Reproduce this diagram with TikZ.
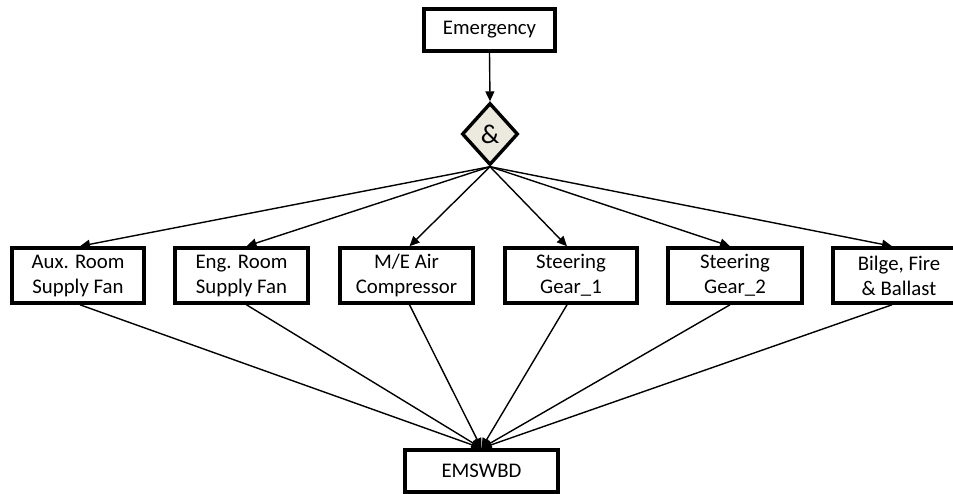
\documentclass[tikz,border=0pt]{standalone}
\usepackage{fontspec}
\setmainfont{Carlito}
\usetikzlibrary{shapes.geometric,arrows.meta}
\begin{document}
\begin{tikzpicture}[x=1pt,y=-1pt,
  box/.style={draw=black,line width=3.6pt,fill=white,align=center,inner sep=0pt,
    font=\fontsize{20.8}{25}\selectfont},
  conn/.style={line width=1.4pt,-{Triangle[length=10pt,width=9pt]}}]
\useasboundingbox (0,0) rectangle (953,493);
\clip (0,0) rectangle (953,493);
\fill[white] (0,0) rectangle (953,493);
\node[box,minimum width=131pt,minimum height=42pt] (em) at (489.5,30) {Emergency};
\node[draw=black,line width=3.4pt,fill={rgb,255:red,236;green,234;blue,222},shape=diamond,
  inner sep=0pt,minimum width=56pt,minimum height=62pt,font=\fontsize{27}{30}\selectfont] (and) at (490,134) {\&};
\node[box,minimum width=132pt,minimum height=55pt] (b1) at (78,275.5) {Aux. Room\\Supply Fan};
\node[box,minimum width=133pt,minimum height=55pt] (b2) at (241.5,275.5) {Eng. Room\\Supply Fan};
\node[box,minimum width=133pt,minimum height=55pt] (b3) at (406.5,275.5) {M/E Air\\Compressor};
\node[box,minimum width=132pt,minimum height=55pt] (b4) at (571,275.5) {Steering\\Gear\_1};
\node[box,minimum width=134pt,minimum height=55pt] (b5) at (735,275.5) {Steering\\Gear\_2};
\node[box,minimum width=132pt,minimum height=55pt] (b6) at (899,275.5) {Bilge, Fire\\\& Ballast};
\node[box,minimum width=153pt,minimum height=42pt] (ems) at (481.5,471) {EMSWBD};
\draw[conn] (em.south) -- (and.north);
\foreach \b/\dx in {b1/2,b2/5,b3/3,b4/-4,b5/-5,b6/-7}{
  \draw[conn] (and.south) -- ([xshift=\dx pt]\b.north);
  \draw[conn] ([xshift=\dx pt]\b.south) -- (ems.north);
}
\end{tikzpicture}
\end{document}
